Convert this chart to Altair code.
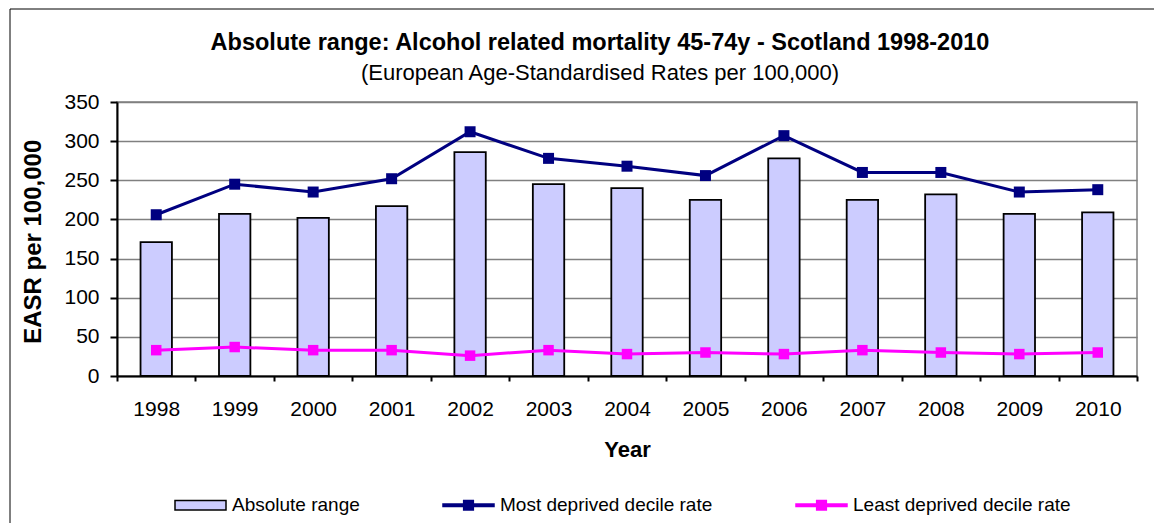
import altair as alt
import pandas as pd

# ---- data ----
years = ["1998", "1999", "2000", "2001", "2002", "2003", "2004",
         "2005", "2006", "2007", "2008", "2009", "2010"]
absolute_range = [171, 207, 202, 217, 286, 245, 240, 225, 278, 225, 232, 207, 209]
most_deprived = [206, 245, 235, 252, 312, 278, 268, 256, 307, 260, 260, 235, 238]
least_deprived = [33, 37, 33, 33, 26, 33, 28, 30, 28, 33, 30, 28, 30]
series_names = ["Absolute range", "Most deprived decile rate", "Least deprived decile rate"]
y_ticks = [0, 50, 100, 150, 200, 250, 300, 350]

FONT = "Liberation Sans, Arial, sans-serif"
BAR_FILL = "#CCCCFF"
NAVY = "#000080"
MAGENTA = "#FF00FF"

W, H = 1020, 274

df = pd.DataFrame({"Year": years, "Absolute": absolute_range,
                   "Most": most_deprived, "Least": least_deprived})
legend_df = pd.DataFrame({"series": series_names})
frame_df = pd.DataFrame({"k": [0]})

x_axis = alt.Axis(title="Year", tickBand="extent", labelAngle=0, grid=False,
                  titleY=80.7, titleBaseline="alphabetic")
y_axis = alt.Axis(title="EASR per 100,000", values=y_ticks, grid=True,
                  titleAngle=270, titleX=-77, titleY=139.3,
                  titleBaseline="alphabetic", titleAlign="center")


def x_enc():
    return alt.X("Year:N", sort=years,
                 scale=alt.Scale(paddingInner=0, paddingOuter=0), axis=x_axis)


def y_enc(field):
    return alt.Y(f"{field}:Q", scale=alt.Scale(domain=[0, 350], nice=False),
                 axis=y_axis)


bars = alt.Chart(df).mark_bar(
    width=alt.RelativeBandSize(0.4), fill=BAR_FILL, stroke="black", strokeWidth=1.8
).encode(x=x_enc(), y=y_enc("Absolute"))

most_line = alt.Chart(df).mark_line(
    color=NAVY, strokeWidth=3,
    point=alt.OverlayMarkDef(shape="square", size=121, filled=True, color=NAVY, opacity=1)
).encode(x=x_enc(), y=y_enc("Most"))

least_line = alt.Chart(df).mark_line(
    color=MAGENTA, strokeWidth=3,
    point=alt.OverlayMarkDef(shape="square", size=110, filled=True, color=MAGENTA, opacity=1)
).encode(x=x_enc(), y=y_enc("Least"))

rect_path = "M-1,-0.19H1V0.19H-1Z"
line_path = ("M-1,-0.045H-0.19V-0.19H0.19V-0.045H1V0.045H0.19V0.19"
             "H-0.19V0.045H-1Z")

leg = alt.Legend(title=None, orient="none", legendX=57, legendY=376.5,
                 direction="horizontal", columns=3, columnPadding=80,
                 symbolSize=2601, symbolStrokeWidth=1.5, symbolOpacity=1,
                 labelFont=FONT, labelFontSize=19, labelColor="black",
                 labelOffset=5, labelLimit=400, padding=0)

legend_layer = alt.Chart(legend_df).transform_filter("false").mark_point(
    filled=True, opacity=1
).encode(
    fill=alt.Fill("series:N", scale=alt.Scale(domain=series_names,
                                              range=[BAR_FILL, NAVY, MAGENTA]), legend=leg),
    stroke=alt.Stroke("series:N", scale=alt.Scale(domain=series_names,
                                                  range=["black", NAVY, MAGENTA]), legend=leg),
    shape=alt.Shape("series:N", scale=alt.Scale(domain=series_names,
                                                range=[rect_path, line_path, line_path]), legend=leg),
)

frame_left = alt.Chart(frame_df).mark_rule(color="black", strokeWidth=1).encode(
    x=alt.value(-107), y=alt.value(-93), y2=alt.value(H + 200))
frame_top = alt.Chart(frame_df).mark_rule(color="black", strokeWidth=1).encode(
    x=alt.value(-107), x2=alt.value(W + 60), y=alt.value(-93))

chart = alt.layer(
    bars, most_line, least_line, legend_layer, frame_left, frame_top
).properties(
    width=W, height=H,
    title=alt.TitleParams(
        text="Absolute range: Alcohol related mortality 45-74y - Scotland 1998-2010",
        subtitle="(European Age-Standardised Rates per 100,000)",
        anchor="middle", frame="group", dx=-27, dy=89,
        font=FONT, fontSize=23.5, fontWeight="bold", color="black",
        subtitleFont=FONT, subtitleFontSize=22, subtitleColor="black",
        subtitlePadding=8, offset=14,
    ),
    padding={"left": 109, "top": 94, "right": 17, "bottom": 147},
    autosize=alt.AutoSizeParams(type="none"),
).configure(
    font=FONT, background="white"
).configure_view(
    stroke="#808080", strokeWidth=1.5
).configure_axis(
    labelFont=FONT, labelFontSize=21, labelColor="black",
    titleFont=FONT, titleFontSize=22, titleFontWeight="bold", titleColor="black",
    domainColor="black", domainWidth=2, tickColor="black", tickWidth=2,
    gridColor="#808080", gridWidth=1.5,
).configure_axisX(
    tickSize=5, labelPadding=17.4
).configure_axisY(
    tickSize=7, labelPadding=11, titleFontSize=24
)

chart.save("out.html", embed_options={"renderer": "svg", "actions": False})
